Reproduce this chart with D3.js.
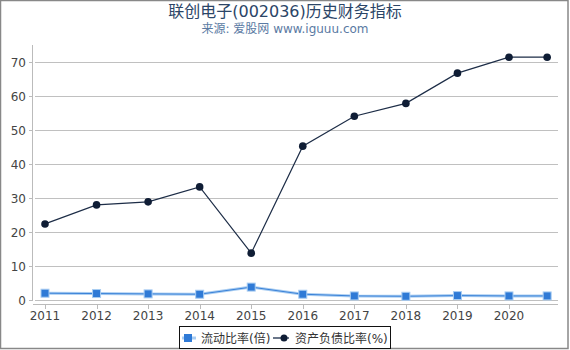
<!DOCTYPE html>
<html>
<head>
<meta charset="utf-8">
<script src="https://d3js.org/d3.v7.min.js"></script>
<style>
  body { margin: 0; background: #fff; }
  text { font-family: "DejaVu Sans", "Noto Sans CJK SC", sans-serif; }
</style>
</head>
<body>
<div id="chart"></div>
<script>
// data
var years = [2011, 2012, 2013, 2014, 2015, 2016, 2017, 2018, 2019, 2020, 2020.74];
var tickYears = [2011, 2012, 2013, 2014, 2015, 2016, 2017, 2018, 2019, 2020];
var currentRatio = [2.0, 1.9, 1.8, 1.7, 3.8, 1.7, 1.2, 1.1, 1.3, 1.2, 1.2];
var debtRatio = [22.4, 28.0, 28.9, 33.3, 13.8, 45.3, 54.1, 57.9, 66.8, 71.5, 71.5];
var yTicks = [0, 10, 20, 30, 40, 50, 60, 70];
var seriesNames = ["流动比率(倍)", "资产负债比率(%)"];

var width = 570, height = 350;

var svg = d3.select("#chart")
  .append("svg")
    .attr("width", width)
    .attr("height", height);

// outer frame
svg.append("rect")
  .attr("x", 0.5).attr("y", 0.5)
  .attr("width", 567.5).attr("height", 348)
  .attr("fill", "none")
  .attr("stroke", "#888")
  .attr("stroke-width", 1.5);

// title
svg.append("text")
  .attr("x", 285).attr("y", 17)
  .attr("text-anchor", "middle")
  .attr("font-size", 16)
  .attr("fill", "#2b4567")
  .text("联创电子(002036)历史财务指标");
svg.append("text")
  .attr("x", 285).attr("y", 33)
  .attr("text-anchor", "middle")
  .attr("font-size", 12)
  .attr("fill", "#5a7aa3")
  .text("来源: 爱股网 www.iguuu.com");

var x = d3.scaleLinear().domain([2011, 2020]).range([45, 509]);
var y = d3.scaleLinear().domain([0, 70]).range([300, 62.3]);

// grid lines
svg.append("g")
  .selectAll("line")
  .data(yTicks)
  .enter()
  .append("line")
    .attr("x1", 35).attr("x2", 558)
    .attr("y1", function(d) { return Math.round(y(d)) + 0.5; })
    .attr("y2", function(d) { return Math.round(y(d)) + 0.5; })
    .attr("stroke", "#c0c0c0")
    .attr("stroke-width", 1);

// y axis
svg.append("line")
  .attr("x1", 32.5).attr("x2", 32.5)
  .attr("y1", 45).attr("y2", 300.5)
  .attr("stroke", "#bbb");
var yAxis = svg.append("g");
yAxis.selectAll("line")
  .data(yTicks)
  .enter()
  .append("line")
    .attr("x1", 29).attr("x2", 33)
    .attr("y1", function(d) { return Math.round(y(d)) + 0.5; })
    .attr("y2", function(d) { return Math.round(y(d)) + 0.5; })
    .attr("stroke", "#bbb");
yAxis.selectAll("text")
  .data(yTicks)
  .enter()
  .append("text")
    .attr("x", 26)
    .attr("y", function(d) { return y(d) + 4.5; })
    .attr("text-anchor", "end")
    .attr("font-size", 12)
    .attr("fill", "#444")
    .text(function(d) { return d; });

// x axis
svg.append("line")
  .attr("x1", 33).attr("x2", 558)
  .attr("y1", 304.5).attr("y2", 304.5)
  .attr("stroke", "#bbb");
var xAxis = svg.append("g");
xAxis.selectAll("line")
  .data(tickYears)
  .enter()
  .append("line")
    .attr("x1", function(d) { return Math.round(x(d)) + 0.5; })
    .attr("x2", function(d) { return Math.round(x(d)) + 0.5; })
    .attr("y1", 304).attr("y2", 309)
    .attr("stroke", "#bbb");
xAxis.selectAll("text")
  .data(tickYears)
  .enter()
  .append("text")
    .attr("x", function(d) { return x(d); })
    .attr("y", 320)
    .attr("text-anchor", "middle")
    .attr("font-size", 12)
    .attr("fill", "#444")
    .text(function(d) { return d; });

var pts = years.map(function(d, i) {
  return { year: d, cur: currentRatio[i], debt: debtRatio[i] };
});

// current ratio line
var curLine = d3.line()
  .x(function(d) { return x(d.year); })
  .y(function(d) { return y(d.cur); });
svg.append("path")
  .datum(pts)
  .attr("d", curLine)
  .attr("fill", "none")
  .attr("stroke", "#a9cdf2")
  .attr("stroke-width", 3);
svg.append("path")
  .datum(pts)
  .attr("d", curLine)
  .attr("fill", "none")
  .attr("stroke", "#3a82d8")
  .attr("stroke-width", 1);
svg.append("g")
  .selectAll("rect")
  .data(pts)
  .enter()
  .append("rect")
    .attr("x", function(d) { return x(d.year) - 4; })
    .attr("y", function(d) { return y(d.cur) - 4; })
    .attr("width", 8).attr("height", 8)
    .attr("fill", "#2f7ad6")
    .attr("stroke", "#a9cdf2")
    .attr("stroke-width", 1);

// debt ratio line
var debtLine = d3.line()
  .x(function(d) { return x(d.year); })
  .y(function(d) { return y(d.debt); });
svg.append("path")
  .datum(pts)
  .attr("d", debtLine)
  .attr("fill", "none")
  .attr("stroke", "#1d2d47")
  .attr("stroke-width", 1.2);
svg.append("g")
  .selectAll("circle")
  .data(pts)
  .enter()
  .append("circle")
    .attr("cx", function(d) { return x(d.year); })
    .attr("cy", function(d) { return y(d.debt); })
    .attr("r", 3.8)
    .attr("fill", "#0f1d35");

// legend
var legend = svg.append("g");
legend.append("rect")
  .attr("x", 179.5).attr("y", 326.5)
  .attr("width", 211).attr("height", 22)
  .attr("fill", "#fff")
  .attr("stroke", "#111");
legend.append("line")
  .attr("x1", 182).attr("x2", 196).attr("y1", 338).attr("y2", 338)
  .attr("stroke", "#a9cdf2").attr("stroke-width", 3);
legend.append("rect")
  .attr("x", 184).attr("y", 334).attr("width", 8).attr("height", 8)
  .attr("fill", "#2f7ad6");
legend.append("text")
  .attr("x", 201).attr("y", 342.5)
  .attr("font-size", 12).attr("fill", "#333")
  .text(seriesNames[0]);
legend.append("line")
  .attr("x1", 273).attr("x2", 289).attr("y1", 338).attr("y2", 338)
  .attr("stroke", "#6a7689").attr("stroke-width", 2);
legend.append("circle")
  .attr("cx", 284).attr("cy", 338).attr("r", 3.5)
  .attr("fill", "#0f1d35");
legend.append("text")
  .attr("x", 295).attr("y", 342.5)
  .attr("font-size", 12).attr("fill", "#333")
  .text(seriesNames[1]);
</script>
</body>
</html>
